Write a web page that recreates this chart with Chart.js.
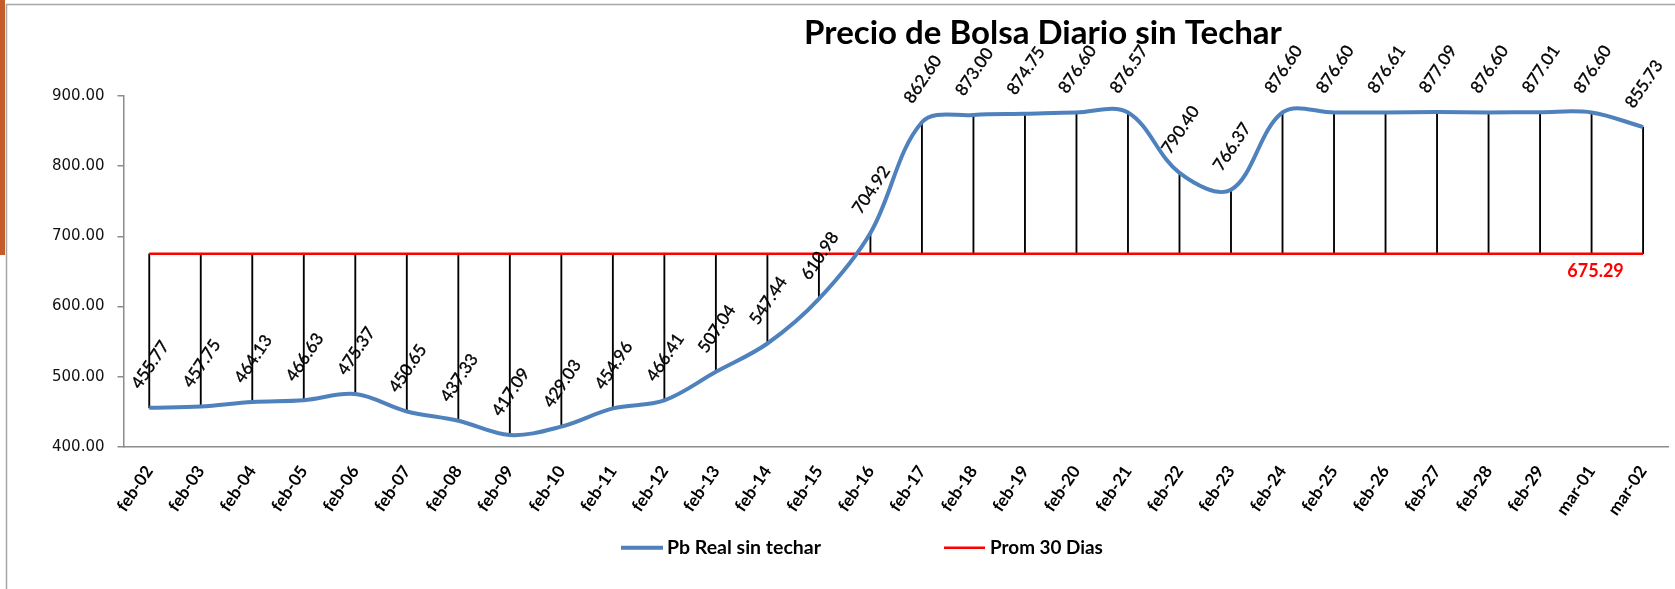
<!DOCTYPE html>
<html>
<head>
<meta charset="utf-8">
<script src="https://cdn.jsdelivr.net/npm/chart.js@4"></script>
<style>
html,body{margin:0;padding:0;background:#fff;overflow:hidden}
canvas{display:block}
</style>
</head>
<body>
<canvas id="c" width="1675" height="589"></canvas>
<script>
const chartTitle = 'Precio de Bolsa Diario sin Techar';
const categories = ['feb-02','feb-03','feb-04','feb-05','feb-06','feb-07','feb-08','feb-09','feb-10','feb-11','feb-12','feb-13','feb-14','feb-15','feb-16','feb-17','feb-18','feb-19','feb-20','feb-21','feb-22','feb-23','feb-24','feb-25','feb-26','feb-27','feb-28','feb-29','mar-01','mar-02'];
const pbReal = [455.77,457.75,464.13,466.63,475.37,450.65,437.33,417.09,429.03,454.96,466.41,507.04,547.44,610.98,704.92,862.60,873.00,874.75,876.60,876.57,790.40,766.37,876.60,876.60,876.61,877.09,876.60,877.01,876.60,855.73];
const prom30 = [675.29,675.29,675.29,675.29,675.29,675.29,675.29,675.29,675.29,675.29,675.29,675.29,675.29,675.29,675.29,675.29,675.29,675.29,675.29,675.29,675.29,675.29,675.29,675.29,675.29,675.29,675.29,675.29,675.29,675.29];
const yTicks = [400, 500, 600, 700, 800, 900];
const seriesNames = ['Pb Real sin techar', 'Prom 30 Dias'];
const promLabelIndex = 28;

const FONT = 'Lato, "Open Sans", sans-serif';
const BLUE = '#4F81BD';
const RED = '#FF0000';

function fitFont(ctx, text, weight, family, width) {
  ctx.font = `${weight} 100px ${family}`;
  const w = ctx.measureText(text).width;
  return 100 * width / w;
}

const decorPlugin = {
  id: 'decor',
  beforeDraw(chart) {
    const ctx = chart.ctx;
    ctx.save();
    ctx.fillStyle = '#fff';
    ctx.fillRect(0, 0, chart.width, chart.height);
    ctx.fillStyle = '#C55A2B';
    ctx.fillRect(0, 0, 5, 255);
    ctx.strokeStyle = '#A6A6A6';
    ctx.lineWidth = 1.5;
    ctx.beginPath();
    ctx.moveTo(6.5, 589);
    ctx.lineTo(6.5, 4.5);
    ctx.lineTo(1675, 4.5);
    ctx.stroke();
    ctx.restore();
  }
};

const textPlugin = {
  id: 'texts',
  afterDraw(chart) {
    const ctx = chart.ctx;
    ctx.save();
    // data labels
    const meta = chart.getDatasetMeta(0);
    ctx.fillStyle = '#000';
    ctx.strokeStyle = '#000';
    ctx.lineWidth = 0.35;
    ctx.font = `17px ${FONT}`;
    ctx.textAlign = 'center';
    ctx.textBaseline = 'middle';
    meta.data.forEach((pt, i) => {
      ctx.save();
      ctx.translate(pt.x + 1, pt.y - 43);
      ctx.rotate(-56 * Math.PI / 180);
      const t = pbReal[i].toFixed(2);
      ctx.fillText(t, 0, 0);
      ctx.strokeText(t, 0, 0);
      ctx.restore();
    });
    // average label
    const m1 = chart.getDatasetMeta(1);
    const p = m1.data[promLabelIndex];
    ctx.fillStyle = RED;
    ctx.font = `bold 18px ${FONT}`;
    ctx.fillText(prom30[promLabelIndex].toFixed(2), p.x + 4, p.y + 17);
    // title
    const ts = fitFont(ctx, chartTitle, 'bold', FONT, 478);
    ctx.font = `bold ${ts}px ${FONT}`;
    ctx.fillStyle = '#000';
    ctx.textAlign = 'center';
    ctx.textBaseline = 'alphabetic';
    ctx.fillText(chartTitle, 1043, 44.3);
    // legend
    ctx.lineCap = 'butt';
    ctx.strokeStyle = BLUE; ctx.lineWidth = 4;
    ctx.beginPath(); ctx.moveTo(621, 547.7); ctx.lineTo(663, 547.7); ctx.stroke();
    ctx.strokeStyle = RED; ctx.lineWidth = 2.5;
    ctx.beginPath(); ctx.moveTo(944, 547.7); ctx.lineTo(985, 547.7); ctx.stroke();
    ctx.fillStyle = '#000';
    ctx.textAlign = 'left';
    let s = fitFont(ctx, seriesNames[0], 'bold', FONT, 154);
    ctx.font = `bold ${s}px ${FONT}`;
    ctx.fillText(seriesNames[0], 667, 554.3);
    s = fitFont(ctx, seriesNames[1], 'bold', FONT, 113);
    ctx.font = `bold ${s}px ${FONT}`;
    ctx.fillText(seriesNames[1], 990, 554.3);
    ctx.restore();
  }
};

new Chart(document.getElementById('c').getContext('2d'), {
  data: {
    labels: categories,
    datasets: [
      { type: 'line', label: seriesNames[0], data: pbReal, borderColor: BLUE, borderWidth: 4, tension: 0.35, pointRadius: 0, fill: false, order: 1 },
      { type: 'line', label: seriesNames[1], data: prom30, borderColor: RED, borderWidth: 2.5, tension: 0, pointRadius: 0, fill: false, order: 2 },
      { type: 'bar', label: 'hl', data: pbReal.map((v, i) => [prom30[i], v]), backgroundColor: '#000', barThickness: 1.2, order: 3 }
    ]
  },
  options: {
    responsive: false,
    animation: false,
    devicePixelRatio: 1,
    layout: { padding: { top: 96, left: 0, right: 0, bottom: 0 } },
    plugins: { legend: { display: false }, title: { display: false }, tooltip: { enabled: false } },
    scales: {
      x: {
        type: 'category',
        offset: true,
        grid: { display: true, drawOnChartArea: false, drawTicks: false },
        border: { display: true, color: '#8C8C8C', width: 1.5 },
        ticks: { autoSkip: false, minRotation: 56, maxRotation: 56, padding: 15, color: '#000', font: { family: FONT, size: 17, weight: 'bold' } },
        afterFit(s) { s.height = 142; }
      },
      y: {
        type: 'linear',
        min: 400, max: 900,
        grid: { drawOnChartArea: false, drawTicks: true, tickLength: 6, color: '#8C8C8C', lineWidth: 1.5 },
        border: { display: true, color: '#8C8C8C', width: 1.5 },
        ticks: { padding: 13, color: '#111', font: { family: '"DejaVu Sans"', size: 15 }, callback: v => Number(v).toFixed(2) },
        afterBuildTicks(s) { s.ticks = yTicks.map(v => ({ value: v })); },
        afterFit(s) { s.width = 123.5; }
      }
    }
  },
  plugins: [decorPlugin, textPlugin]
});
</script>
</body>
</html>
